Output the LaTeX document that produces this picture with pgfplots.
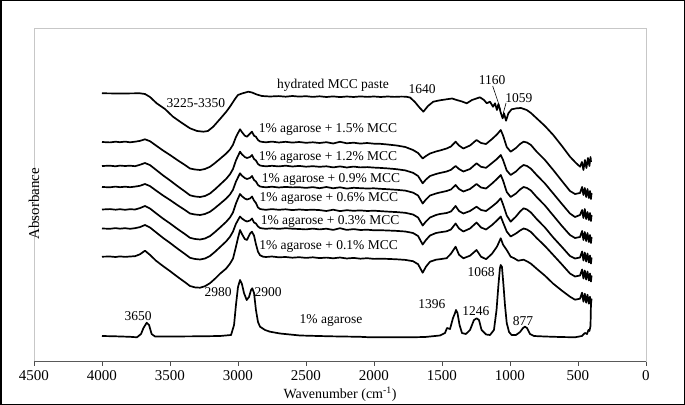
\documentclass[border=0pt]{standalone}
\usepackage{pgfplots}
\pgfplotsset{compat=1.18}
\usepackage{fontspec}
\setmainfont{Liberation Serif}
\newcommand{\anno}{\fontsize{13.5bp}{16bp}\selectfont}
\newcommand{\axf}{\fontsize{15bp}{17bp}\selectfont}
\begin{document}
\begin{tikzpicture}
\useasboundingbox (0,0) rectangle (685bp,405bp);
\begin{axis}[
  at={(34bp,44bp)}, anchor=south west, scale only axis,
  width=612bp, height=333bp,
  xmin=0, xmax=4500, ymin=0, ymax=333, x dir=reverse,
  xtick={0,500,...,4500}, ytick=\empty,
  /pgf/number format/1000 sep={},
  /pgf/number format/assume math mode=true,
  axis line style={draw=black!22, line width=0.8bp},
  xtick pos=left, tick align=outside, major tick length=4.5bp,
  xtick style={draw=black!70, line width=0.8bp},
  xticklabel style={font=\axf, anchor=center, inner sep=0pt, yshift=-10.5bp},
  xlabel={Wavenumber (cm\textsuperscript{-1})},
  xlabel style={font=\fontsize{14bp}{16bp}\selectfont, inner sep=0pt, at={(axis description cs:0.5,0)}, anchor=center, yshift=-33bp},
  ylabel={Absorbance},
  ylabel style={font=\axf, at={(axis description cs:0,0.514)}, rotate=0, anchor=center, xshift=-14bp},
  clip=false,
]
% hydrated MCC paste
\addplot[black, line width=1.7bp, line join=round] coordinates {
(4000,267.7)(3868,267.5)(3721,267.7)(3684,267)(3647,264)(3598,257.7)(3537,252)(3478,244.3)(3412,238)(3353,232.7)(3301,230)(3255,229.3)(3221,230)(3182,234.3)(3132,242)(3088,249)(3059,254.3)(3022,262)(3000,266)(2971,267.5)(2924,269.3)(2897,268.5)(2862,266.5)(2824,265)(2765,264.5)
(2700,264.9)(2650,264.3)(2600,265)(2550,264.4)(2500,264.8)(2450,264.1)(2400,264.7)(2350,264)(2300,264.6)(2250,263.9)(2200,264.5)(2150,264)(2100,264.6)(2050,264.1)(2000,264.5)(1950,264)(1900,264.5)(1850,264.1)(1800,264.4)(1765,264.3)
(1735,263.5)(1699,259)(1669,254)(1637,249.3)(1603,255)(1564,259.3)(1515,260.7)(1466,261.7)(1426,262.5)(1392,261)(1353,259.5)(1318,257.7)(1279,261)(1221,263.7)(1191,261)(1171,257.7)(1147,259.3)(1125,254.3)(1110,257.7)(1096,251)(1085,257)(1068,248.3)(1054,242.7)(1044,247.7)(1029,240.3)(1012,247.7)(988,251.7)(951,252.7)(919,253)(877,251)(846,248)(804,242.7)(743,235)(682,226)(618,215)(559,204.3)(515,198)(485,194.3)(471,199)(460,191)(449,201)(438,193)(427,203)(416,195)(408,204)(404,199)
};
% 1.5% MCC
\addplot[black, line width=1.7bp, line join=round] coordinates {
(4000,219)(3941,218.6)(3900,219.3)(3868,218.8)(3830,219.4)(3794,218.7)(3757,219.3)(3721,220.1)(3684,221.7)(3647,219.8)(3603,215.5)(3551,210.5)(3500,206)(3441,200.5)(3390,196)(3353,192.5)(3316,191.5)(3279,191)(3243,192)(3206,194.2)(3169,198)(3132,202.2)(3088,207.3)(3059,211.5)(3037,216.2)(3015,224)(3000,227.9)(2985,231.7)(2971,228.9)(2950,225.3)(2934,224.3)(2912,227.3)(2897,229.3)(2882,225.3)(2868,224.2)(2853,221)(2838,219.5)(2816,219)(2794,218.7)
(2750,219.4)(2700,218.5)(2650,219.2)(2600,218.4)(2550,219)(2500,218.2)(2450,218.7)(2400,218)(2350,218.8)(2300,217.5)(2250,219.2)(2200,217.7)(2150,218.3)(2100,217.4)(2050,218)(2000,217.3)(1956,217.2)
(1900,216.5)(1833,215.5)(1770,214)(1713,211)(1676,208)(1642,202.5)(1618,205)(1588,207.5)(1544,209.5)(1515,210.5)(1466,212.5)(1434,214.5)(1400,219.3)(1375,215.5)(1343,212.5)(1294,215.5)(1246,221)(1213,218)(1176,217)(1132,222)(1096,226.5)(1068,231)(1051,225.5)(1024,214)(995,209.3)(956,213)(926,217)(900,219.3)(875,218.5)(846,216)(804,209.3)(743,201)(682,191)(618,180)(559,170)(522,167)(485,168)(470,174)(460,166)(450,173)(440,164)(430,172)(420,163)(412,170)(405,162)(400,168)
};
% 1.2% MCC
\addplot[black, line width=1.7bp, line join=round] coordinates {
(4000,195)(3941,195.3)(3900,194.7)(3868,195.4)(3830,195)(3794,195.3)(3757,194.8)(3721,196.2)(3684,198)(3647,195.9)(3603,191.2)(3551,185.6)(3500,180.6)(3441,174.5)(3390,169.5)(3353,165.7)(3316,164.5)(3279,164)(3243,165)(3206,167.5)(3169,171.7)(3132,176.4)(3088,182)(3059,186.7)(3037,191.9)(3015,200.6)(3000,205)(2985,209.3)(2971,206.7)(2950,204)(2934,203)(2912,204)(2897,206)(2882,202)(2868,200.5)(2853,197)(2838,195.5)(2816,195)(2794,194.7)
(2750,195.2)(2700,194.6)(2650,195.3)(2600,194.5)(2550,195.1)(2500,194.3)(2450,194.8)(2400,194.2)(2350,194.7)(2300,193.6)(2250,194.6)(2200,193.5)(2150,194.4)(2100,193.6)(2050,193.9)(2000,193.4)(1956,193.1)
(1900,192.6)(1833,191.8)(1770,190.6)(1713,188.2)(1676,185)(1642,177.7)(1618,181.5)(1588,185)(1544,187)(1515,188)(1466,189.5)(1434,191.2)(1400,195)(1375,192)(1343,189.5)(1294,192)(1246,197.7)(1213,194.2)(1176,193.2)(1132,198)(1096,202)(1068,206)(1051,201)(1024,190.5)(995,186)(956,189.5)(926,193.5)(900,196)(875,195)(846,192.3)(804,186)(743,177.5)(682,167.5)(618,157)(559,147.5)(522,144)(485,146)(470,151)(460,143)(450,152)(440,142)(430,149)(420,141)(412,148)(405,140)(400,146)
};
% 0.9% MCC
\addplot[black, line width=1.7bp, line join=round] coordinates {
(4000,174)(3941,173.7)(3900,174.4)(3868,173.8)(3830,174.3)(3794,173.8)(3757,174.4)(3721,175.2)(3684,177)(3647,174.9)(3603,170.5)(3551,165.5)(3500,161)(3441,155.5)(3390,151)(3353,147.5)(3316,146.5)(3279,146)(3243,147)(3206,149.2)(3169,153)(3132,157.2)(3088,162.3)(3059,166.5)(3037,171.2)(3015,179.4)(3000,183.6)(2985,187.7)(2971,185.3)(2950,183)(2934,182)(2912,183)(2897,185)(2882,181)(2868,179.5)(2853,176)(2838,174.5)(2816,174)(2794,173.7)
(2750,174.3)(2700,173.5)(2650,174.1)(2600,173.6)(2550,173.8)(2500,173.1)(2450,173.9)(2400,172.8)(2350,174)(2300,172.7)(2250,173.7)(2200,172.4)(2150,173.2)(2100,172.8)(2050,172.5)(2000,172.7)(1956,172.2)
(1900,171.8)(1833,171.2)(1770,170.4)(1713,168.4)(1676,165.5)(1642,157.5)(1618,161.5)(1588,165.5)(1544,167.5)(1515,168.5)(1466,170)(1434,171.5)(1400,176)(1375,172)(1343,169.5)(1294,172)(1246,177)(1213,173.5)(1176,172.5)(1132,177.5)(1096,182)(1068,186)(1051,180.5)(1024,169)(995,164)(956,167.5)(926,171.5)(900,174)(875,173)(846,170.5)(804,164)(743,155.5)(682,145.5)(618,135)(559,126)(522,123)(485,124)(470,130)(460,121)(450,129)(440,120)(430,128)(420,119)(412,126)(405,118)(400,124)
};
% 0.6% MCC
\addplot[black, line width=1.7bp, line join=round] coordinates {
(4000,151.5)(3941,151.9)(3900,151.3)(3868,151.8)(3830,151.2)(3794,151.8)(3757,151.5)(3721,152.9)(3684,155)(3647,152.5)(3603,147.8)(3551,142.4)(3500,137.6)(3441,131.7)(3390,126.9)(3353,123.2)(3316,122)(3279,121.5)(3243,122.5)(3206,124.9)(3169,129)(3132,133.5)(3088,139)(3059,143.5)(3037,148.5)(3015,157.5)(3000,162.4)(2985,167)(2971,164.8)(2950,162.5)(2934,161.5)(2912,162.5)(2897,164.5)(2882,160.5)(2868,158)(2853,153.5)(2838,152)(2816,151.5)(2794,151.2)
(2750,151.9)(2700,151.2)(2650,151.7)(2600,150.9)(2550,151.5)(2500,151)(2450,151.3)(2400,150.9)(2350,150)(2300,151.3)(2250,149.9)(2200,150.8)(2150,150.2)(2100,150.6)(2050,150)(2000,150.3)(1956,149.9)
(1900,149.4)(1833,148.9)(1770,148.2)(1713,146.5)(1676,143.5)(1642,135.5)(1618,139.5)(1588,143.5)(1544,146)(1515,147)(1466,148)(1434,149.5)(1400,155)(1375,150)(1343,147.5)(1294,150)(1246,154.3)(1213,151)(1176,150)(1132,154.5)(1096,158.5)(1068,162.7)(1051,156.5)(1024,145.5)(995,139.3)(956,144.5)(926,149.5)(900,152.7)(875,151.5)(846,148.5)(804,142)(743,133.5)(682,123.5)(618,114)(559,105)(522,102.5)(485,103.5)(470,109.5)(460,100.5)(450,108.5)(440,99.5)(430,107.5)(420,98.5)(412,105.5)(405,97.5)(400,103.5)
};
% 0.3% MCC
\addplot[black, line width=1.7bp, line join=round] coordinates {
(4000,132.5)(3941,132.2)(3900,132.9)(3868,132.3)(3830,132.8)(3794,132.2)(3757,132.8)(3721,133.9)(3684,136)(3647,133.5)(3603,128.7)(3551,123.1)(3500,118.1)(3441,112)(3390,107)(3353,103.2)(3316,102)(3279,101.5)(3243,102.5)(3206,105)(3169,109.2)(3132,113.9)(3088,119.5)(3059,124.2)(3037,129.4)(3015,137.2)(3000,140.9)(2985,144.5)(2971,142.5)(2950,140.5)(2934,139.5)(2912,140.5)(2897,142.5)(2882,138.5)(2868,137.5)(2853,134.5)(2838,133)(2816,132.5)(2794,132.2)
(2750,132.7)(2700,132.1)(2650,132.8)(2600,132.3)(2550,132)(2500,131.6)(2450,132.4)(2400,131.6)(2350,132.3)(2300,131.1)(2250,132.8)(2200,131.1)(2150,131.9)(2100,131)(2050,131.3)(2000,130.7)(1956,130.8)
(1900,130.5)(1833,130.1)(1770,129.5)(1713,128)(1676,125)(1642,116.5)(1618,121)(1588,125.5)(1544,128)(1515,128.7)(1466,129.7)(1434,131.5)(1400,137.5)(1375,132.5)(1343,129.5)(1294,132.5)(1246,138.5)(1213,133.5)(1176,131.5)(1132,136)(1096,140.5)(1068,144.5)(1051,138.5)(1024,129.5)(995,124.5)(956,127.5)(926,130.5)(900,132.5)(875,131.5)(846,129)(804,123)(743,115)(682,106)(618,96.5)(559,87.5)(522,84.5)(485,85.5)(470,91.5)(460,82.5)(450,90.5)(440,81.5)(430,89.5)(420,80.5)(412,87.5)(405,79.5)(400,85.5)
};
% 0.1% MCC
\addplot[black, line width=1.7bp, line join=round] coordinates {
(4000,104.3)(3941,104.5)(3900,104)(3868,104.6)(3830,104.1)(3794,104.5)(3757,104.8)(3721,106.7)(3684,110.3)(3647,106.1)(3603,100.3)(3551,94.9)(3500,89.9)(3441,83.8)(3390,78.8)(3353,75)(3316,73.6)(3279,73.3)(3243,74.8)(3206,77.8)(3169,82.3)(3132,87.3)(3088,92.3)(3059,97.3)(3037,102.3)(3015,114.3)(3000,123)(2985,131)(2971,127)(2950,122)(2934,121)(2912,127.3)(2897,129.3)(2882,125.3)(2868,116.8)(2853,109.3)(2838,105.8)(2816,104.3)(2794,104)
(2750,104.5)(2700,103.7)(2650,104)(2600,103.3)(2550,103.8)(2500,103.1)(2450,103.7)(2400,102.9)(2350,103.4)(2300,102.7)(2250,103.5)(2200,102.5)(2150,103.1)(2100,102.3)(2050,102.8)(2000,102.1)(1956,102.3)
(1900,102.1)(1833,101.7)(1770,101.1)(1713,99.8)(1676,96.8)(1642,88.3)(1618,94.3)(1588,99.3)(1544,101.3)(1515,101.8)(1466,102.8)(1434,107.3)(1400,114.3)(1375,106.3)(1343,102.7)(1294,105.3)(1246,111)(1213,104.3)(1176,101.8)(1132,107.3)(1096,114.3)(1068,122.7)(1051,116.3)(1024,111)(995,104.3)(970,102.8)(940,100.3)(900,101.3)(870,99.3)(846,97.3)(804,92.3)(743,85.3)(682,77.3)(618,70.3)(559,64.3)(522,61.3)(485,62.3)(470,68.3)(460,59.3)(450,67.3)(440,58.3)(430,66.3)(420,57.3)(412,64.3)(405,56.3)(400,62.3)
};
% 1% agarose
\addplot[black, line width=1.7bp, line join=round] coordinates {
(4000,25)(3904,24.7)(3794,24.2)(3743,23.7)(3713,27)(3695,33)(3671,38.3)(3654,36)(3635,27)(3610,24.5)(3500,24.5)(3279,24.7)(3132,25)(3051,26)(3029,36)(3015,56)(3000,74)(2985,81)(2971,77)(2956,68)(2936,61)(2919,64)(2904,71)(2895,72.7)(2882,68)(2868,51)(2853,39)(2838,34.3)(2801,31)(2765,29.3)(2691,27.5)(2544,25.5)(2324,24.7)(2103,24.2)(2029,23.7)(1956,23.7)(1735,23.7)(1625,24)(1515,25.5)(1478,28)(1463,33)(1441,32)(1419,43)(1404,48)(1397,51)(1386,48)(1371,36)(1353,28)(1324,27)(1294,31)(1265,41)(1245,42.7)(1228,41)(1209,31)(1176,26.5)(1147,26)(1118,31)(1099,51)(1085,76)(1074,93)(1068,96)(1059,94)(1048,76)(1037,56)(1024,38)(1007,29)(988,26)(956,26)(926,29)(904,33)(890,34.3)(875,33)(853,27)(824,25)(743,24.5)(632,24)(522,23.7)(471,25)(449,28)(434,27)(423,31)(416,30)(408,35)(404,61)
};
% annotations
\node[font=\anno] at (axis cs:2301,276) {hydrated MCC paste};
\node[font=\anno] at (axis cs:3309,258) {3225-3350};
\node[font=\anno] at (axis cs:1647,272) {1640};
\node[font=\anno] at (axis cs:1132,281) {1160};
\node[font=\anno] at (axis cs:934,263) {1059};
\draw[line width=0.6bp] (axis cs:1127,275) -- (axis cs:1068,251);
\draw[line width=0.6bp] (axis cs:1029,258) -- (axis cs:1049,248);
\node[font=\anno] at (axis cs:2338,232) {1\% agarose + 1.5\% MCC};
\node[font=\anno] at (axis cs:2338,203.5) {1\% agarose + 1.2\% MCC};
\node[font=\anno] at (axis cs:2316,182) {1\% agarose + 0.9\% MCC};
\node[font=\anno] at (axis cs:2331,163) {1\% agarose + 0.6\% MCC};
\node[font=\anno] at (axis cs:2323,139.5) {1\% agarose + 0.3\% MCC};
\node[font=\anno] at (axis cs:2334,115) {1\% agarose + 0.1\% MCC};
\node[font=\anno] at (axis cs:3735,45) {3650};
\node[font=\anno] at (axis cs:3147,69) {2980};
\node[font=\anno] at (axis cs:2779,69) {2900};
\node[font=\anno] at (axis cs:2316,41) {1\% agarose};
\node[font=\anno] at (axis cs:1574,57) {1396};
\node[font=\anno] at (axis cs:1250,50) {1246};
\node[font=\anno] at (axis cs:1213,89) {1068};
\node[font=\anno] at (axis cs:904,40) {877};
\draw[black!65, line width=0.8bp] (rel axis cs:0,0) -- (rel axis cs:1,0);
\end{axis}
\draw[line width=1.5bp] (0.75bp,0.75bp) rectangle (684.25bp,404.25bp);
\end{tikzpicture}
\end{document}
